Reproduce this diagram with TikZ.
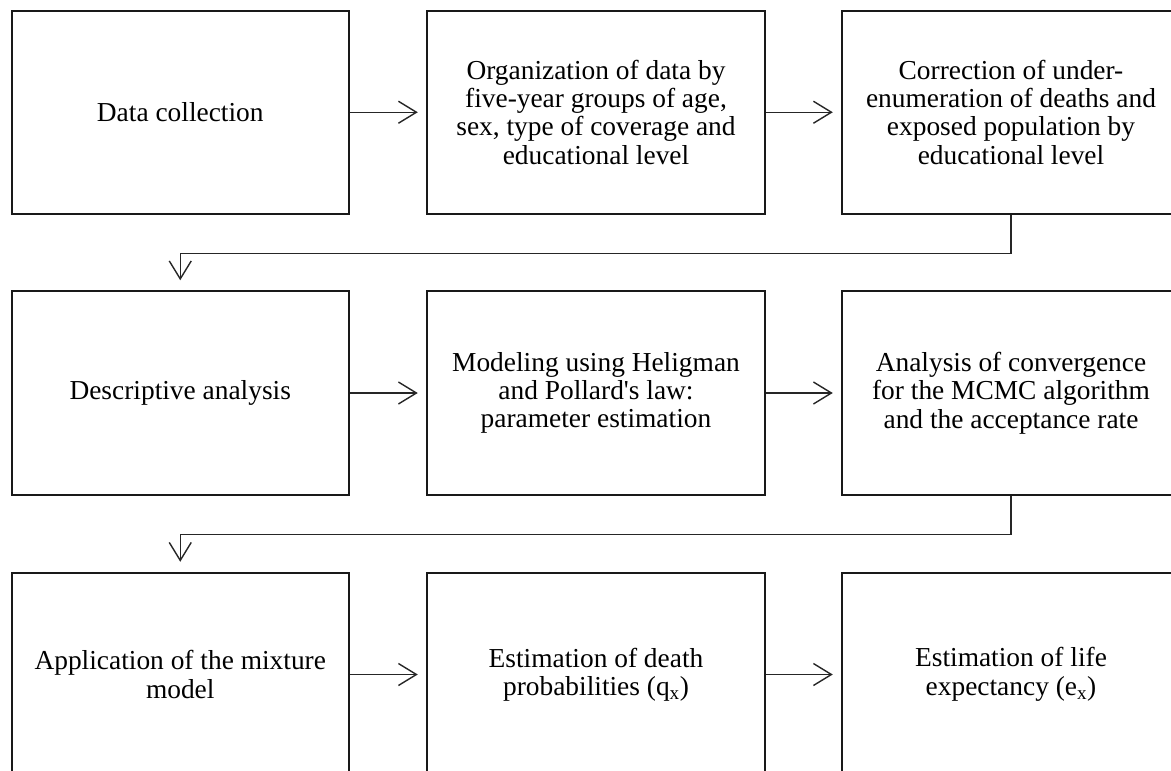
\documentclass[tikz,border=0pt]{standalone}
\usepackage{fontspec}
\setmainfont{Liberation Serif}
\usetikzlibrary{arrows.meta}
\begin{document}
\begin{tikzpicture}[x=1pt,y=1pt,
  stepbox/.style={draw=black!90, line width=2pt, fill=white, minimum width=337.5pt, minimum height=203.5pt,
    inner sep=0pt, align=center, font=\fontsize{27.4}{28.4}\selectfont},
  conn/.style={draw=black!85, line width=1.4pt, -{Straight Barb[length=18pt,width=22pt,line width=1.4pt]}, shorten >=8.5pt}
]
\useasboundingbox (0,0) rectangle (1171,-771);
\clip (0,0) rectangle (1171,-771);
\fill[white] (0,0) rectangle (1171,-771);
% row 1
\node[stepbox] (b1) at (180.25,-112.25) {Data collection};
\node[stepbox] (b2) at (596,-112.25) {Organization of data by\\five-year groups of age,\\sex, type of coverage and\\educational level};
\node[stepbox] (b3) at (1011,-112.25) {Correction of under-\\enumeration of deaths and\\exposed population by\\educational level};
% row 2
\node[stepbox] (b4) at (180.25,-393) {Descriptive analysis};
\node[stepbox] (b5) at (596,-393) {Modeling using Heligman\\and Pollard\textquotesingle s law:\\parameter estimation};
\node[stepbox] (b6) at (1011,-393) {Analysis of convergence\\for the MCMC algorithm\\and the acceptance rate};
% row 3
\node[stepbox] (b7) at (180.25,-674.5) {Application of the mixture\\model};
\node[stepbox] (b8) at (596,-674.5) {Estimation of death\\probabilities (q\textsubscript{x})};
\node[stepbox] (b9) at (1011,-674.5) {Estimation of life\\expectancy (e\textsubscript{x})};
% connectors
\draw[conn] (b1.east) -- (b2.west);
\draw[conn] (b2.east) -- (b3.west);
\draw[conn] (b4.east) -- (b5.west);
\draw[conn] (b5.east) -- (b6.west);
\draw[conn] (b7.east) -- (b8.west);
\draw[conn] (b8.east) -- (b9.west);
\draw[conn, shorten >=10pt] (b3.south) -- ++(0,-38.5) -| (b4.north);
\draw[conn, shorten >=10pt] (b6.south) -- ++(0,-38.5) -| (b7.north);
\end{tikzpicture}
\end{document}
